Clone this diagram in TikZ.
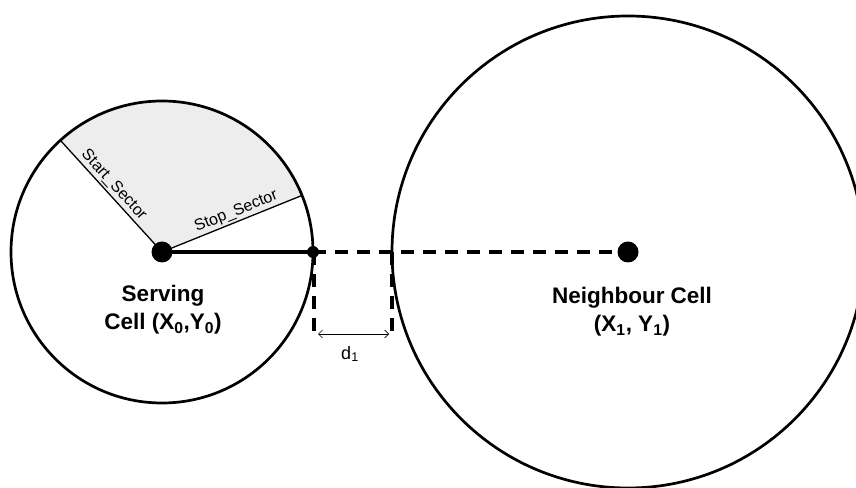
\documentclass[tikz,border=0pt]{standalone}
\usepackage{fontspec}
\setmainfont{Liberation Sans}
\usetikzlibrary{calc,arrows.meta}
\begin{document}
\begin{tikzpicture}[x=1pt,y=1pt,
  cell/.style={line width=2.7pt},
  sectorline/.style={line width=1.3pt},
  dashline/.style={line width=3.8pt, dash pattern=on 13pt off 9pt},
  bigdot/.style={fill=black},
  lbl/.style={font=\fontsize{22.5}{28}\selectfont\bfseries, align=center},
  small/.style={font=\fontsize{16}{19}\selectfont, inner sep=2pt}]
\useasboundingbox (0,0) rectangle (856,487);
\coordinate (S0) at (162,235);
\coordinate (N1) at (628,235);
\coordinate (P) at (313,235);
\coordinate (Q) at (392,235);
\coordinate (Pd) at (314,153);
\coordinate (Qd) at (392,153);
% shaded sector
\fill[gray!14] (S0) -- ++(22:151) arc[start angle=22, end angle=132.3, radius=151] -- cycle;
\draw[sectorline] (S0) -- ++(132.3:151) coordinate (SA);
\draw[sectorline] (S0) -- ++(22:151) coordinate (SB);
% circles
\draw[cell] (S0) circle[radius=151];
\draw[cell] (N1) circle[radius=236];
% dashed connector
\draw[dashline] (P) -- (N1);
\draw[line width=3.8pt] (S0) -- (P);
\draw[dashline] (Pd |- P) -- (Pd);
\draw[dashline] (Q) -- (Qd);
\draw[line width=0.7pt, {Straight Barb[length=4pt,width=8pt]}-{Straight Barb[length=4pt,width=8pt]}] ($(Pd)+(4,0)$) -- ($(Qd)+(-3,0)$);
% dots
\fill[bigdot] (S0) circle[radius=10.5];
\fill[bigdot] (N1) circle[radius=10.5];
\fill[bigdot] (P) circle[radius=6];
% labels
\node[small, rotate=-47.7, anchor=south] (startlbl) at ($(S0)+(132.3:82)$) {Start\_Sector};
\node[small, rotate=22, anchor=south] (stoplbl) at ($(S0)+(22:84)$) {Stop\_Sector};
\node[font=\fontsize{18}{20}\selectfont] (dlbl) at (350,133) {d\textsubscript{1}};
\node[lbl] (serving) at (163,177) {Serving\\Cell (X\textsubscript{0},Y\textsubscript{0})};
\node[lbl] (neigh) at (632,175) {Neighbour Cell\\(X\textsubscript{1}, Y\textsubscript{1})};
\end{tikzpicture}
\end{document}
